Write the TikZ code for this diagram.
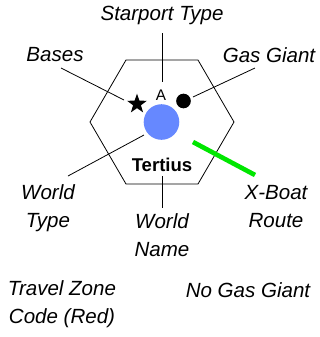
\documentclass[tikz,border=0pt]{standalone}
\usepackage{fontspec}
\setmainfont{Liberation Sans}
\usetikzlibrary{shapes.geometric}

\definecolor{worldblue}{RGB}{102,136,255}
\definecolor{routegreen}{RGB}{0,230,0}

\begin{document}
\begin{tikzpicture}[x=0.75pt, y=-0.75pt,
  lbl/.style={font=\fontsize{15.4}{21}\selectfont\itshape, align=center, inner sep=0pt},
  leader/.style={draw, line width=0.6pt}]
  \useasboundingbox (0,0) rectangle (320,337);
  % Hex
  \draw[line width=0.6pt] (90,122) -- (126,60) -- (198,60) -- (234,122) -- (198,184) -- (126,184) -- cycle;
  % Nodes
  \node[circle, fill=worldblue, minimum size=26.7pt, inner sep=0pt](planet) at (161.5,122){};
  \node[star, star points=5, star point ratio=2.5, fill=black, minimum size=15.5pt, inner sep=0pt](base) at (137,104){};
  \node[circle, fill=black, minimum size=11pt, inner sep=0pt](giant) at (183.5,101){};
  \node[font=\fontsize{11.5}{13}\selectfont, inner sep=0pt](port) at (161,95){A};
  \node[font=\fontsize{13.9}{16}\selectfont\bfseries, inner sep=0pt](name) at (162,165){Tertius};
  \node[lbl](portL) at (162,15.5){Starport Type};
  \node[lbl](baseL) at (55,55){Bases};
  \node[lbl](giantL) at (269,55){Gas Giant};
  \node[lbl](typeL) at (48,208.5){World\\Type};
  \node[lbl](nameL) at (162,235.5){World\\Name};
  \node[lbl](routeL) at (276,206.5){X-Boat\\Route};
  \node[lbl](zoneL) at (62,304.5){Travel Zone\\Code (Red)};
  \node[lbl](noggL) at (248,290){No Gas Giant};
  % Ends
  \coordinate (portA) at (162,33);
  \coordinate (portB) at (162,82);
  \coordinate (baseA) at (61,68);
  \coordinate (baseB) at (124,100);
  \coordinate (giantA) at (255,68);
  \coordinate (giantB) at (193,97);
  \coordinate (typeA) at (144,135);
  \coordinate (typeB) at (68,176);
  \coordinate (nameA) at (162,176);
  \coordinate (nameB) at (162,208);
  \coordinate (routeA) at (193,142);
  \coordinate (routeB) at (255,175);
  % Edges
  \path[leader] (portA) -- (portB);
  \path[leader] (baseA) -- (baseB);
  \path[leader] (giantA) -- (giantB);
  \path[leader] (typeA) -- (typeB);
  \path[leader] (nameA) -- (nameB);
  \draw[routegreen, line width=3.5pt] (routeA) -- (routeB);
\end{tikzpicture}
\end{document}
